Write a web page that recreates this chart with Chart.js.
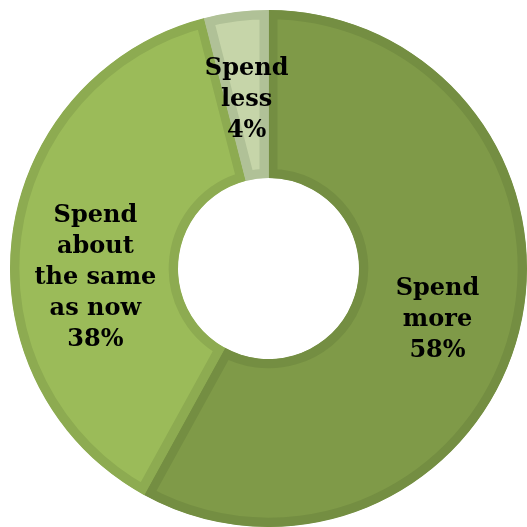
<!DOCTYPE html>
<html>
<head>
<meta charset="utf-8">
<script src="https://cdn.jsdelivr.net/npm/chart.js@4/dist/chart.umd.min.js"></script>
<style>
  html,body{margin:0;padding:0;background:#fff;}
  #wrap{width:527px;height:527px;}
</style>
</head>
<body>
<div id="wrap"><canvas id="c" width="527" height="527"></canvas></div>
<script>
'use strict';

/* Werte aus dem Bild */
const labels = [['Spend','more'], ['Spend','about','the same','as now'], ['Spend','less']];
const values = [58, 38, 4];
const pctText = ['58%', '38%', '4%'];

const fills   = ['#7f9a48', '#9bbb59', '#c6d5a9'];
const borders = ['#748e42', '#8dab51', '#b0c197'];
const labelShiftY = [8, 31, 4];   // kleine Korrektur der Beschriftungslage

const FONT = 'bold 24px "DejaVu Serif", serif';
const LINE = 31;

const sliceLabels = {
  id:'sliceLabels',
  afterDatasetsDraw(chart){
    const ctx = chart.ctx;
    const meta = chart.getDatasetMeta(0);
    ctx.save();
    ctx.font = FONT;
    ctx.fillStyle = '#000';
    ctx.textAlign = 'center';
    ctx.textBaseline = 'middle';
    meta.data.forEach((arc, i)=>{
      const p = arc.tooltipPosition();
      const lines = labels[i].concat(pctText[i]);
      const top = p.y + labelShiftY[i] - (lines.length-1)*LINE/2;
      lines.forEach((t, k)=> ctx.fillText(t, p.x, top + k*LINE));
    });
    ctx.restore();
  }
};

new Chart(document.getElementById('c'), {
  type:'doughnut',
  data:{
    labels: labels.map(l=>l.join(' ')),
    datasets:[{
      data: values,
      backgroundColor: fills,
      borderColor: borders,
      hoverBackgroundColor: fills,
      hoverBorderColor: borders,
      borderWidth: 9,
      hoverBorderWidth: 9,
      borderAlign: 'inner',
      borderJoinStyle: 'miter'
    }]
  },
  options:{
    responsive:false,
    animation:false,
    cutout:'35%',
    layout:{ padding:{ left:10, top:10, right:0, bottom:0 } },
    plugins:{ legend:{ display:false }, tooltip:{ enabled:false } }
  },
  plugins:[sliceLabels]
});
</script>
</body>
</html>
